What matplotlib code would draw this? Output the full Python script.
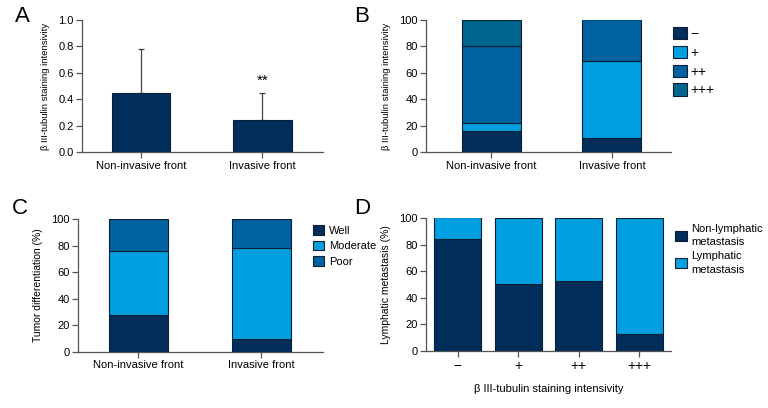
import matplotlib.pyplot as plt
import numpy as np

plt.rcParams['font.family'] = ['Liberation Sans', 'DejaVu Sans']
plt.rcParams['font.size'] = 8

navy = '#002d5a'
light = '#00a0e0'
mid = '#00629e'
teal = '#00658f'
edge = '#0b1e33'
spine_col = '#555555'

groups = ['Non-invasive front', 'Invasive front']

# panel A
a_mean = [0.45, 0.245]
a_err = [0.33, 0.205]

# panel B: percent per staining level
b_levels = ['−', '+', '++', '+++']
b_neg = [16, 11]
b_pos = [6, 58]
b_pp = [58, 32]
b_ppp = [20, 0]

# panel C: tumor differentiation
c_labels = ['Well', 'Moderate', 'Poor']
c_well = [28, 10]
c_mod = [48, 68]
c_poor = [24, 22]

# panel D: lymphatic metastasis by staining level
d_cats = ['−', '+', '++', '+++']
d_non = [84, 50, 53, 12.5]
d_lym = [17, 50, 47, 87.5]

fig = plt.figure(figsize=(7.68, 4.08), dpi=100)

def style(ax):
    for s in ['top', 'right']:
        ax.spines[s].set_visible(False)
    for s in ['left', 'bottom']:
        ax.spines[s].set_color(spine_col)
        ax.spines[s].set_linewidth(0.9)
    ax.tick_params(direction='out', length=4, width=0.9, color=spine_col, pad=2)

def panel_label(ch, px, py):
    fig.text(px / 768, 1 - py / 408, ch, fontsize=16, ha='center', va='center')

leg_kw = dict(frameon=False, handlelength=1.0, handleheight=1.0, borderaxespad=0)

# A
axA = fig.add_axes([0.1068, 0.627, 0.3138, 0.324])
x = np.arange(2)
axA.bar(x, a_mean, width=0.48, color=navy, edgecolor=edge, linewidth=0.8, zorder=3)
axA.errorbar(x, a_mean, yerr=[np.zeros(2), a_err], fmt='none', ecolor='#444444',
             elinewidth=0.9, capsize=2.5, capthick=0.9, zorder=2)
axA.text(1, 0.49, '**', ha='center', va='bottom', fontsize=11)
axA.set_xlim(-0.49, 1.5)
axA.set_ylim(0, 1.0)
axA.set_yticks(np.arange(0, 1.01, 0.2))
axA.set_yticklabels(['0.0', '0.2', '0.4', '0.6', '0.8', '1.0'])
axA.set_xticks(x)
axA.set_xticklabels(groups)
axA.tick_params(axis='x', pad=12)
axA.set_ylabel('β III-tubulin staining intensivity', fontsize=6.8, labelpad=6)
style(axA)
panel_label('A', 22, 16)

# B
axB = fig.add_axes([0.5547, 0.627, 0.319, 0.324])
bottom = np.zeros(2)
for vals, col, lab in zip([b_neg, b_pos, b_pp, b_ppp], [navy, light, mid, teal], b_levels):
    axB.bar(x, vals, bottom=bottom, width=0.49, color=col, edgecolor=edge,
            linewidth=0.8, label=lab, zorder=3)
    bottom += np.array(vals)
axB.set_xlim(-0.54, 1.49)
axB.set_ylim(0, 100)
axB.set_yticks(range(0, 101, 20))
axB.set_xticks(x)
axB.set_xticklabels(groups)
axB.tick_params(axis='x', pad=12)
axB.set_ylabel('β III-tubulin staining intensivity', fontsize=6.8, labelpad=6)
axB.legend(loc='upper left', bbox_to_anchor=(0.985, 0.99), handletextpad=0.25,
           labelspacing=0.35, fontsize=10, **leg_kw)
style(axB)
panel_label('B', 362, 16)

# C
axC = fig.add_axes([0.1016, 0.1373, 0.319, 0.326])
bottom = np.zeros(2)
for vals, col, lab in zip([c_well, c_mod, c_poor], [navy, light, mid], c_labels):
    axC.bar(x, vals, bottom=bottom, width=0.48, color=col, edgecolor=edge,
            linewidth=0.8, label=lab, zorder=3)
    bottom += np.array(vals)
axC.set_xlim(-0.49, 1.5)
axC.set_ylim(0, 100)
axC.set_yticks(range(0, 101, 20))
axC.set_xticks(x)
axC.set_xticklabels(groups)
axC.tick_params(axis='x', pad=12)
axC.set_ylabel('Tumor differentiation (%)', fontsize=7.5, labelpad=6)
axC.legend(loc='upper left', bbox_to_anchor=(0.94, 0.99), handletextpad=0.5,
           labelspacing=0.45, fontsize=8, **leg_kw)
style(axC)
panel_label('C', 20, 208)

# D
axD = fig.add_axes([0.5547, 0.1397, 0.319, 0.326])
xd = np.arange(4)
axD.bar(xd, d_non, width=0.775, color=navy, edgecolor=edge, linewidth=0.8,
        label='Non-lymphatic\nmetastasis', zorder=3)
axD.bar(xd, d_lym, bottom=d_non, width=0.775, color=light, edgecolor=edge, linewidth=0.8,
        label='Lymphatic\nmetastasis', zorder=3)
axD.set_xlim(-0.52, 3.52)
axD.set_ylim(0, 100)
axD.set_yticks(range(0, 101, 20))
axD.set_xticks(xd)
axD.set_xticklabels(d_cats, fontsize=10)
axD.tick_params(axis='x', pad=4)
axD.set_xlabel('β III-tubulin staining intensivity', labelpad=8)
axD.set_ylabel('Lymphatic metastasis (%)', fontsize=7.5, labelpad=6)
leg = axD.legend(loc='upper left', bbox_to_anchor=(1.0, 0.99), handletextpad=0.4,
                 labelspacing=0.4, fontsize=8, **leg_kw)
for t in leg.get_texts():
    t.set_linespacing(1.4)
style(axD)
panel_label('D', 362, 208)

fig.savefig('out.png', dpi=100)
